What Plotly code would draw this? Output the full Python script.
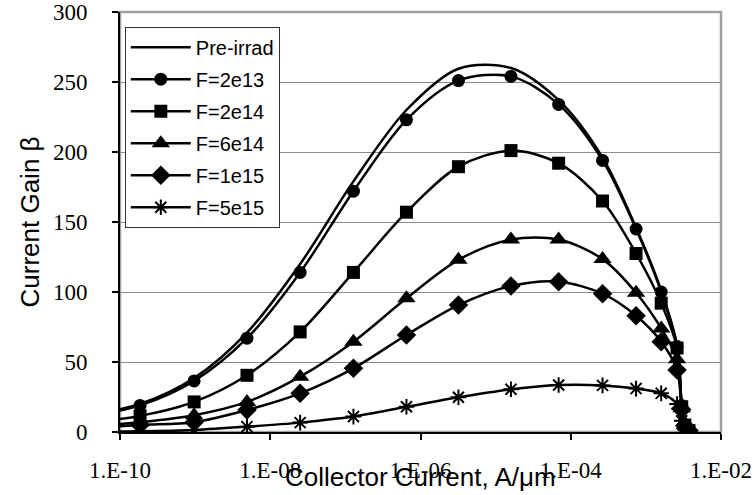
import plotly.graph_objects as go

# Collector current (A/um) at each simulated bias point
collector_current = [3.6e-11, 1.85e-10, 9.7e-10, 4.9e-9, 2.5e-8, 1.28e-7, 6.5e-7, 3.2e-6,
                     1.6e-5, 6.9e-5, 2.65e-4, 7.4e-4, 1.6e-3, 2.6e-3, 3.0e-3, 3.3e-3, 3.75e-3]

beta_pre   = [12.0, 20.0, 38.5, 71.0, 120.0, 179.0, 230.0, 259.5, 260.0, 237.0, 196.0, 146.0, 101.0, 62.0, 20.0, 6.0, 1.0]
beta_2e13  = [11.0, 19.0, 36.5, 67.0, 114.0, 172.0, 223.0, 251.0, 254.0, 234.0, 194.0, 145.0, 100.0, 61.0, 19.0, 5.0, 1.0]
beta_2e14  = [6.5, 11.5, 21.5, 40.5, 71.5, 114.0, 157.0, 189.5, 201.0, 192.0, 165.0, 127.5, 92.0, 60.0, 18.0, 5.0, 1.0]
beta_6e14  = [3.8, 7.0, 12.0, 21.5, 39.5, 64.5, 95.5, 123.0, 137.5, 137.5, 123.5, 99.5, 74.0, 52.0, 17.0, 5.0, 1.0]
beta_1e15  = [2.6, 5.0, 7.0, 15.7, 27.6, 45.5, 69.3, 90.7, 104.3, 107.4, 98.8, 83.0, 64.5, 44.3, 16.0, 4.5, 1.0]
beta_5e15  = [0.3, 0.6, 1.5, 3.8, 6.7, 11.0, 18.0, 24.8, 30.5, 33.6, 33.3, 31.0, 27.6, 20.0, 8.0, 2.0, 0.5]

series_names = ["Pre-irrad", "F=2e13", "F=2e14", "F=6e14", "F=1e15", "F=5e15"]
series_values = [beta_pre, beta_2e13, beta_2e14, beta_6e14, beta_1e15, beta_5e15]
series_symbols = [None, "circle", "square", "triangle-up", "diamond", "asterisk-open"]
series_sizes = [0, 13, 13, 16, 15, 13]

x_tick_vals = [1e-10, 1e-8, 1e-6, 1e-4, 1e-2]
x_tick_text = ["1.E-10", "1.E-08", "1.E-06", "1.E-04", "1.E-02"]
y_tick_vals = [0, 50, 100, 150, 200, 250, 300]

fig = go.Figure()
for i, (name, vals, sym, sz) in enumerate(zip(series_names, series_values, series_symbols, series_sizes)):
    if sym is None:
        mode = "lines"
        marker = None
    else:
        mode = "lines+markers"
        if sym == "asterisk-open":
            marker = dict(symbol=sym, size=sz, color="black", line=dict(color="black", width=2))
        else:
            marker = dict(symbol=sym, size=sz, color="black", line=dict(width=0))
    fig.add_trace(go.Scatter(
        x=collector_current, y=vals, name=name, mode=mode, marker=marker,
        line=dict(color="black", width=2.5, shape="spline", smoothing=0.9),
        legendgroup="g%d" % i,
    ))

fig.update_layout(
    width=755, height=495,
    margin=dict(l=120, r=34, t=12, b=63),
    paper_bgcolor="white", plot_bgcolor="white",
    showlegend=True,
    legend=dict(
        x=0.008, y=0.965, xanchor="left", yanchor="top",
        bgcolor="white", bordercolor="#333", borderwidth=1,
        font=dict(family="Liberation Sans, Arial, sans-serif", size=20, color="black"),
        traceorder="grouped", tracegroupgap=3, itemwidth=60,
    ),
    xaxis=dict(
        type="log", range=[-10, -2], automargin=False,
        tickvals=x_tick_vals, ticktext=x_tick_text,
        ticks="outside", ticklen=6, tickwidth=1.5, tickcolor="black",
        showline=True, linecolor="black", linewidth=2,
        showgrid=False, zeroline=False,
        tickfont=dict(family="Liberation Serif, Times New Roman, serif", size=23, color="black"),
        ticklabelstandoff=10,
    ),
    yaxis=dict(
        range=[0, 300], tickvals=y_tick_vals, automargin=False,
        ticks="outside", ticklen=6, tickwidth=1.5, tickcolor="black",
        showline=True, linecolor="black", linewidth=2,
        showgrid=True, gridcolor="#8c8c8c", gridwidth=1, zeroline=False,
        tickfont=dict(family="Liberation Serif, Times New Roman, serif", size=23, color="black"),
        ticklabelstandoff=20,
        title=dict(text="Current Gain β", standoff=6,
                   font=dict(family="Liberation Sans, Arial, sans-serif", size=26, color="black")),
    ),
    shapes=[dict(type="rect", xref="paper", yref="paper", x0=0, x1=1, y0=0, y1=1,
                 line=dict(color="#a0a0a0", width=2.5), layer="below")],
    annotations=[dict(text="Collector Current, A/μm", xref="paper", yref="paper",
                      x=0.5, y=-0.107, xanchor="center", yanchor="middle", showarrow=False,
                      font=dict(family="Liberation Sans, Arial, sans-serif", size=26, color="black"))],
)

fig.write_html("out.html")
